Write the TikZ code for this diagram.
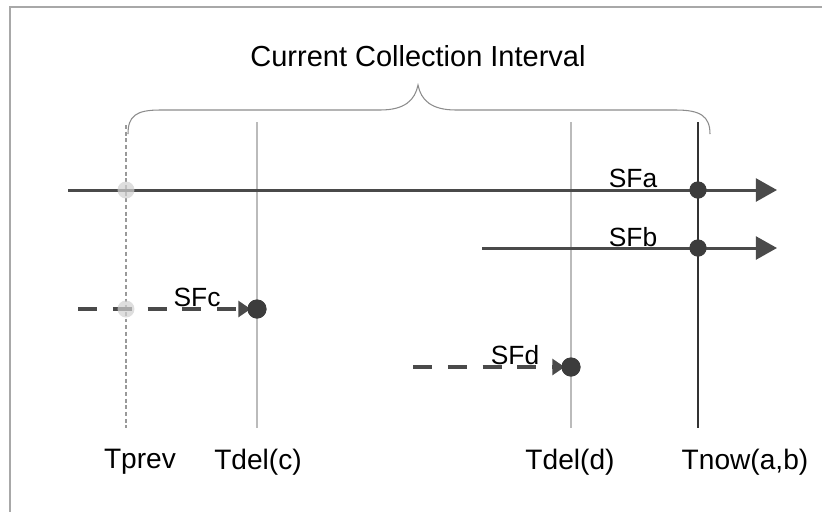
\documentclass[tikz,border=0pt]{standalone}
\usepackage{fontspec}
\setmainfont{Liberation Sans}
\usepackage{tikz}
\usetikzlibrary{arrows.meta,positioning}
\definecolor{ink}{HTML}{4A4A4A}
\definecolor{dotc}{HTML}{3C3C3C}
\definecolor{tgray}{HTML}{BBBBBB}
\definecolor{framec}{HTML}{A8A8A8}
\tikzset{
  flow/.style={line width=1.7pt,ink,-{Triangle[length=12pt,width=13pt]}},
  lateflow/.style={line width=1.9pt,ink,dash pattern=on 10.8pt off 9pt,-{Triangle[length=7pt,width=9pt]}},
  tline/.style={line width=0.6pt,tgray},
  dot/.style={circle,fill=dotc,inner sep=0pt,minimum size=0.34cm},
  bigdot/.style={dot,minimum size=0.38cm},
  ghost/.style={circle,fill=black!18,opacity=0.7,inner sep=0pt,minimum size=0.34cm},
  tlabel/.style={font=\fontsize{16}{18}\selectfont},
  sflabel/.style={font=\fontsize{15}{17}\selectfont}
}
\begin{document}
\begin{tikzpicture}[x=0.02cm,y=-0.02cm]
\useasboundingbox (0,0) rectangle (822,512);
\fill[white] (0,0) rectangle (822,512);
\draw[framec,line width=1.2pt] (822,7) -- (10,7) -- (10,512);
\node[font=\fontsize{16.5}{20}\selectfont] (title) at (418,56) {Current Collection Interval};
% brace
\draw[black!45,line width=0.6pt] (128,134) .. controls (128,116) and (136,110) .. (160,110) -- (380,110) .. controls (405,110) and (415,100) .. (418,85)
  .. controls (421,100) and (431,110) .. (456,110) -- (676,110) .. controls (700,110) and (710,116) .. (710,134);
% time lines
\coordinate (tp0) at (126,125); \coordinate (tp1) at (126,428);
\coordinate (tc0) at (257,122); \coordinate (tc1) at (257,428);
\coordinate (td0) at (571,122); \coordinate (td1) at (571,428);
\coordinate (tn0) at (698,122); \coordinate (tn1) at (698,428);
\draw[line width=0.6pt,black!40,dash pattern=on 2.2pt off 1.6pt] (tp0) -- (tp1);
\draw[tline] (tc0) -- (tc1);
\draw[tline] (td0) -- (td1);
\draw[line width=1.3pt,black!80] (tn0) -- (tn1);
\node[tlabel] (tprev) at (140,462) {Tprev};
\node[tlabel] (tdelc) at (258,462) {Tdel(c)};
\node[tlabel] (tdeld) at (570,462) {Tdel(d)};
\node[tlabel] (tnow) at (745,462) {Tnow(a,b)};
% flows
\coordinate (a0) at (68,190); \coordinate (a1) at (777,190);
\coordinate (b0) at (482,248); \coordinate (b1) at (777,248);
\coordinate (c0) at (78,309);
\coordinate (d0) at (413,367);
\node[dot] (ca) at (698,190) {};
\node[dot] (cb) at (698,248) {};
\node[bigdot] (cc) at (257,309) {};
\node[bigdot] (cd) at (571,367) {};
\draw[flow] (a0) -- (a1);
\draw[flow] (b0) -- (b1);
\draw[lateflow] (c0) -- ([xshift=2pt]cc.west);
\draw[lateflow] (d0) -- ([xshift=2pt]cd.west);
\node[dot] at (ca) {};
\node[dot] at (cb) {};
\node[bigdot] at (cc) {};
\node[bigdot] at (cd) {};
\node[ghost] (pa) at (126,190) {};
\node[ghost] (pc) at (126,309) {};
\node[sflabel] (sfa) at (633,178) {SFa};
\node[sflabel] (sfb) at (633,237) {SFb};
\node[sflabel] (sfc) at (197,297) {SFc};
\node[sflabel] (sfd) at (515,355) {SFd};
\end{tikzpicture}
\end{document}
